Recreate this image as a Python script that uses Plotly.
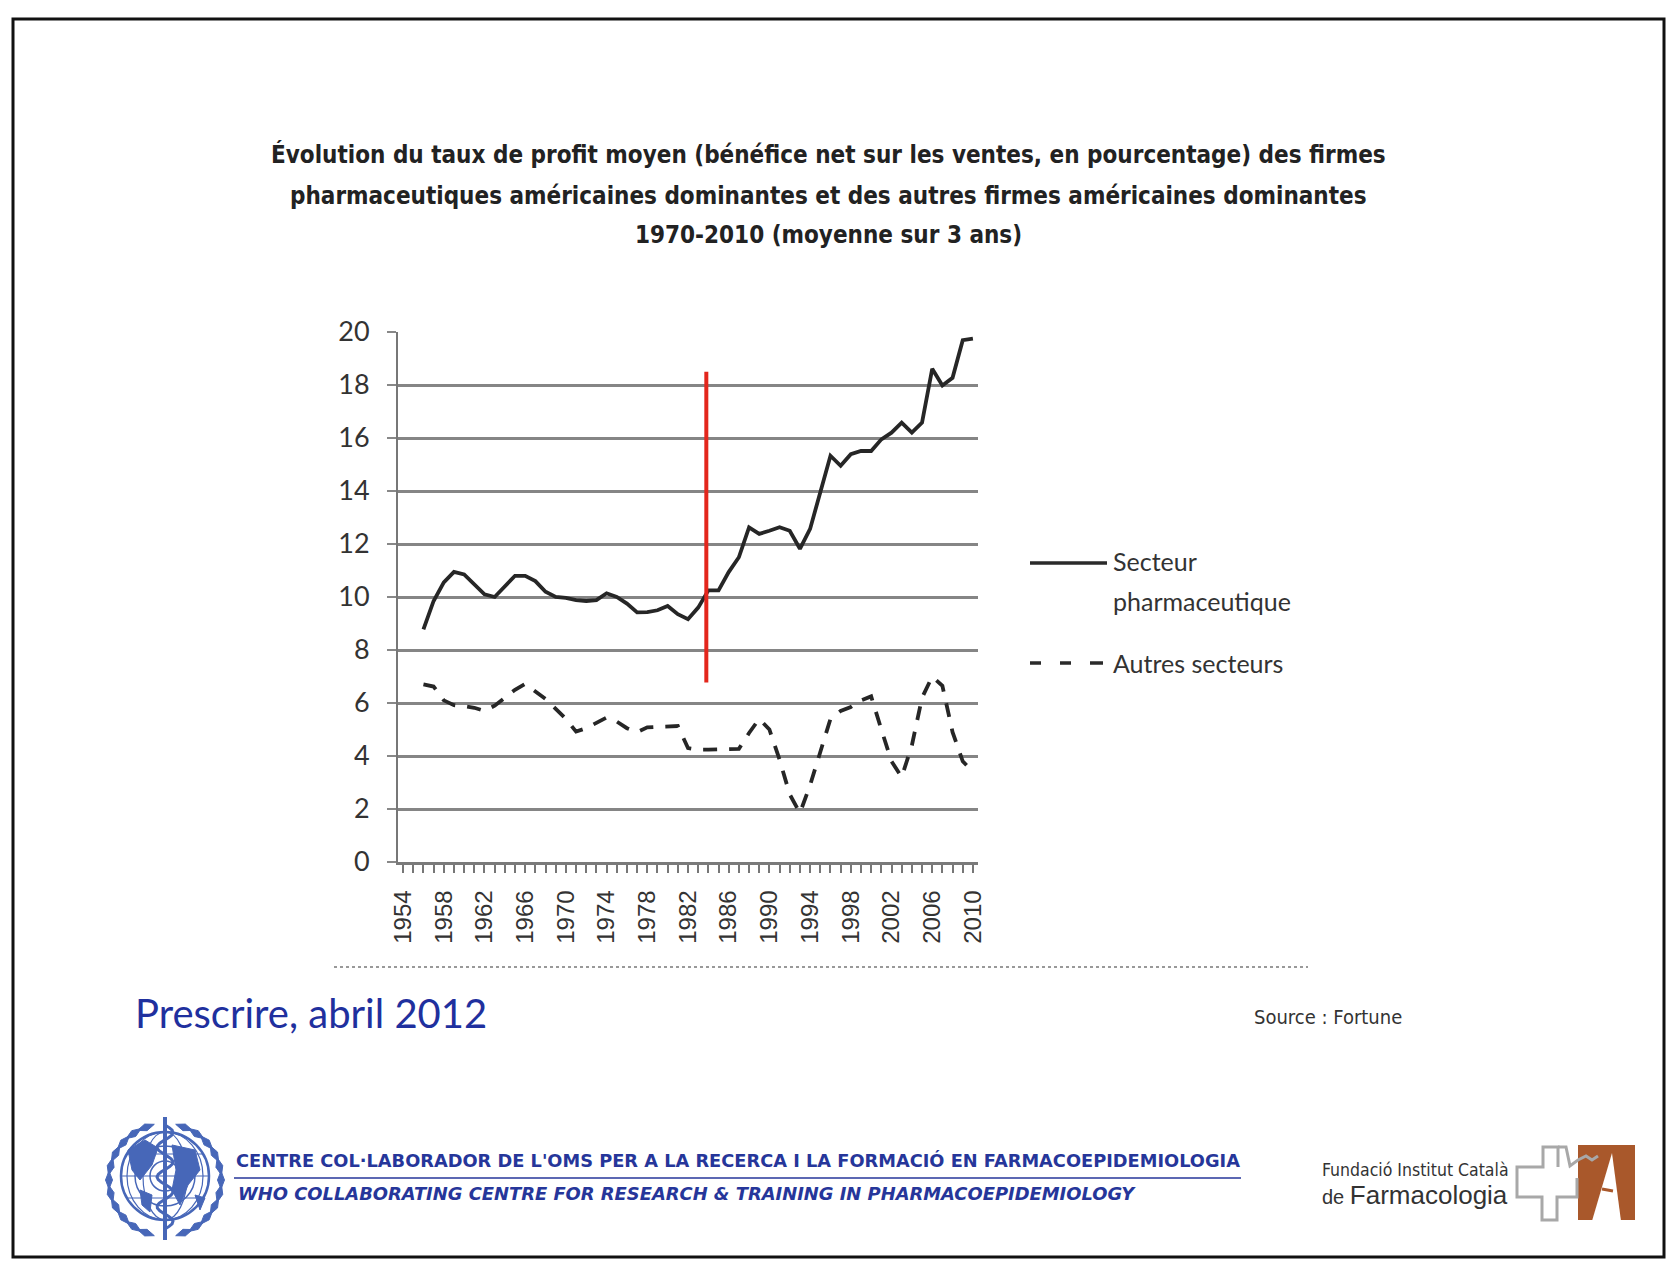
import math
import plotly.graph_objects as go

# Years shown on the chart (one point per year)
years = list(range(1956, 2011))

# Secteur pharmaceutique (% net profit on sales, 3-year average)
pharma = [8.78, 9.85, 10.55, 10.95, 10.85, 10.45, 10.1, 10.0, 10.4, 10.8,
          10.8, 10.6, 10.2, 10.0, 9.97, 9.88, 9.85, 9.88, 10.14, 10.0,
          9.75, 9.42, 9.43, 9.5, 9.66, 9.35, 9.16, 9.6, 10.25, 10.25,
          10.94, 11.5, 12.63, 12.38, 12.5, 12.63, 12.5, 11.82, 12.57, 14.0,
          15.33, 14.95, 15.39, 15.51, 15.51, 15.95, 16.2, 16.58, 16.2, 16.58,
          18.61, 17.98, 18.27, 19.69, 19.75]

# Autres secteurs
autres = [6.7, 6.62, 6.1, 5.92, 5.88, 5.82, 5.7, 5.9, 6.2, 6.5,
          6.72, 6.45, 6.15, 5.78, 5.4, 4.92, 5.05, 5.25, 5.45, 5.3,
          5.05, 4.9, 5.08, 5.1, 5.13, 5.13, 4.3, 4.24, 4.24, 4.25,
          4.27, 4.27, 4.87, 5.4, 5.0, 3.86, 2.55, 1.85, 2.9, 4.1,
          5.4, 5.7, 5.85, 6.1, 6.25, 5.0, 3.8, 3.2, 4.4, 6.2,
          7.0, 6.65, 4.9, 3.8, 3.4]

title_lines = [
    "Évolution du taux de profit moyen (bénéfice net sur les ventes, en pourcentage) des firmes",
    "pharmaceutiques américaines dominantes et des autres firmes américaines dominantes",
    "1970-2010 (moyenne sur 3 ans)",
]
legend_labels = ["Secteur", "pharmaceutique", "Autres secteurs"]

# red marker line (year, from, to)
red_year = 1983.8
red_span = [6.77, 18.5]

NARROW = "DejaVu Sans Condensed, Liberation Sans Narrow, sans-serif"
BLUE = "#26369a"
LOGO_BLUE = "#4767b8"


# page pixel -> paper coordinates (plot area is 398..978 x 332..862 on the page)
def px(x):
    return (x - 398) / 580


def py(y):
    return (862 - y) / 530


def poly(pts, close=True):
    p = "M " + " L ".join("%.5f,%.5f" % (px(a), py(b)) for a, b in pts)
    return p + " Z" if close else p


fig = go.Figure()
fig.add_trace(go.Scatter(x=years, y=pharma, mode="lines",
                         line=dict(color="#262626", width=3.8),
                         name="Secteur pharmaceutique"))
fig.add_trace(go.Scatter(x=years, y=autres, mode="lines",
                         line=dict(color="#262626", width=3.8, dash="14px,12px"),
                         name="Autres secteurs"))

shapes = []
annotations = []

# red vertical line
shapes.append(dict(type="line", xref="x", yref="y", x0=red_year, x1=red_year,
                   y0=red_span[0], y1=red_span[1],
                   line=dict(color="#e3261c", width=4)))

# title
for txt, yy in zip(title_lines, [154, 196, 235]):
    annotations.append(dict(xref="paper", yref="paper", x=px(828), y=py(yy),
                            text="<b>%s</b>" % txt, showarrow=False,
                            xanchor="center", yanchor="middle",
                            font=dict(family=NARROW, size=24, color="#222")))

# legend, drawn by hand
shapes.append(dict(type="line", xref="paper", yref="paper", x0=px(1030), x1=px(1107),
                   y0=py(563), y1=py(563), line=dict(color="#2a2a2a", width=3.5)))
for a, b in [(1030, 1041), (1060, 1071), (1090, 1103)]:
    shapes.append(dict(type="line", xref="paper", yref="paper", x0=px(a), x1=px(b),
                       y0=py(663), y1=py(663), line=dict(color="#2a2a2a", width=3.5)))
for txt, yy in zip(legend_labels, [561, 601, 663]):
    annotations.append(dict(xref="paper", yref="paper", x=px(1111), y=py(yy),
                            text=txt, showarrow=False, xanchor="left", yanchor="middle",
                            font=dict(family="Lato, sans-serif", size=25, color="#333")))

# dotted separator
shapes.append(dict(type="line", xref="paper", yref="paper", x0=px(334), x1=px(1308),
                   y0=py(967), y1=py(967), line=dict(color="#999", width=2, dash="dot")))

annotations.append(dict(xref="paper", yref="paper", x=px(133), y=py(1013),
                        text="Prescrire, abril 2012", showarrow=False,
                        xanchor="left", yanchor="middle",
                        font=dict(family="Lato, sans-serif", size=40, color="#1f309e")))
annotations.append(dict(xref="paper", yref="paper", x=px(1252), y=py(1017),
                        text="Source : Fortune", showarrow=False,
                        xanchor="left", yanchor="middle",
                        font=dict(family=NARROW, size=20, color="#333")))

# WHO footer text
annotations.append(dict(xref="paper", yref="paper", x=px(234), y=py(1160),
                        text="<b>CENTRE COL·LABORADOR DE L'OMS PER A LA RECERCA I LA FORMACIÓ EN FARMACOEPIDEMIOLOGIA</b>",
                        showarrow=False, xanchor="left", yanchor="middle",
                        font=dict(family="DejaVu Sans, sans-serif", size=17.8, color=BLUE)))
annotations.append(dict(xref="paper", yref="paper", x=px(236), y=py(1193),
                        text="<b><i>WHO COLLABORATING CENTRE FOR RESEARCH &amp; TRAINING IN PHARMACOEPIDEMIOLOGY</i></b>",
                        showarrow=False, xanchor="left", yanchor="middle",
                        font=dict(family="DejaVu Sans, sans-serif", size=17.9, color=BLUE)))
shapes.append(dict(type="line", xref="paper", yref="paper", x0=px(234), x1=px(1241),
                   y0=py(1178), y1=py(1178), line=dict(color=BLUE, width=1.5)))

# WHO emblem (simplified)
cx, cy = 165, 1176
for r, w in [(44, 2.5), (30, 1.5), (15, 1.5)]:
    shapes.append(dict(type="circle", xref="paper", yref="paper",
                       x0=px(cx - r), x1=px(cx + r), y0=py(cy - r), y1=py(cy + r),
                       line=dict(color=LOGO_BLUE, width=w)))
for rx in [22, 38]:
    shapes.append(dict(type="circle", xref="paper", yref="paper",
                       x0=px(cx - rx), x1=px(cx + rx), y0=py(cy - 44), y1=py(cy + 44),
                       line=dict(color=LOGO_BLUE, width=1.2)))
for dy in [-22, 0, 22]:
    half = math.sqrt(44 ** 2 - dy ** 2)
    shapes.append(dict(type="line", xref="paper", yref="paper",
                       x0=px(cx - half), x1=px(cx + half), y0=py(cy + dy), y1=py(cy + dy),
                       line=dict(color=LOGO_BLUE, width=1.2)))
# continents (rough blobs)
blobs = [
    [(128, 1150), (145, 1140), (158, 1148), (152, 1165), (140, 1180), (132, 1170)],
    [(172, 1145), (195, 1150), (200, 1170), (188, 1185), (180, 1205), (172, 1190), (176, 1170)],
    [(140, 1190), (152, 1195), (150, 1212), (142, 1205)],
    [(195, 1195), (205, 1198), (200, 1210)],
]
for pts in blobs:
    shapes.append(dict(type="path", xref="paper", yref="paper", path=poly(pts),
                       fillcolor=LOGO_BLUE, line=dict(color=LOGO_BLUE, width=1)))
# staff and serpent
shapes.append(dict(type="line", xref="paper", yref="paper", x0=px(cx), x1=px(cx),
                   y0=py(1117), y1=py(1240), line=dict(color=LOGO_BLUE, width=4)))
snake = [(cx + 8 * math.sin(i * 0.55), 1125 + i * 2.6) for i in range(41)]
shapes.append(dict(type="path", xref="paper", yref="paper", path=poly(snake, False),
                   line=dict(color=LOGO_BLUE, width=3)))
# laurel wreath
for side in (-1, 1):
    for k in range(11):
        ang = math.radians(-70 + k * 14)
        lx = cx + side * 56 * math.cos(ang)
        ly = cy + 4 + 56 * math.sin(ang)
        tx, ty = -math.sin(ang) * side, math.cos(ang)
        nx, ny = math.cos(ang) * side, math.sin(ang)
        L, Wd = 9, 3.5
        pts = [(lx - tx * L, ly - ty * L), (lx + nx * Wd, ly + ny * Wd),
               (lx + tx * L, ly + ty * L), (lx - nx * Wd, ly - ny * Wd)]
        shapes.append(dict(type="path", xref="paper", yref="paper", path=poly(pts),
                           fillcolor=LOGO_BLUE, line=dict(color=LOGO_BLUE, width=1)))

# Fundació Institut Català de Farmacologia
annotations.append(dict(xref="paper", yref="paper", x=px(1320), y=py(1170),
                        text="Fundació Institut Català", showarrow=False,
                        xanchor="left", yanchor="middle",
                        font=dict(family=NARROW, size=17.5, color="#333")))
annotations.append(dict(xref="paper", yref="paper", x=px(1320), y=py(1195),
                        text="de <span style='font-size:26px'>Farmacologia</span>",
                        showarrow=False, xanchor="left", yanchor="middle",
                        font=dict(family="Liberation Sans, Arial, sans-serif", size=20, color="#333")))
shapes.append(dict(type="rect", xref="paper", yref="paper", x0=px(1578), x1=px(1635),
                   y0=py(1220), y1=py(1145), fillcolor="#a9582b", line=dict(width=0)))
shapes.append(dict(type="path", xref="paper", yref="paper",
                   path=poly([(1592, 1221), (1612, 1153), (1621, 1221)]),
                   fillcolor="white", line=dict(width=0)))
shapes.append(dict(type="line", xref="paper", yref="paper", x0=px(1602), x1=px(1613),
                   y0=py(1189), y1=py(1191), line=dict(color="#a9582b", width=3)))
cross = [(1558, 1167), (1558, 1147), (1543, 1147), (1543, 1167), (1517, 1167),
         (1517, 1197), (1542, 1197), (1542, 1220), (1557, 1220), (1557, 1197),
         (1577, 1197), (1577, 1178)]
shapes.append(dict(type="path", xref="paper", yref="paper", path=poly(cross, False),
                   line=dict(color="#a8a8a8", width=3)))
wave = [(1558, 1147), (1566, 1147), (1570, 1166), (1578, 1160), (1586, 1156),
        (1592, 1160), (1598, 1156)]
shapes.append(dict(type="path", xref="paper", yref="paper", path=poly(wave, False),
                   line=dict(color="#a8a8a8", width=3)))

# page frame
shapes.append(dict(type="rect", xref="paper", yref="paper", x0=px(13), x1=px(1664),
                   y0=py(1257), y1=py(19), line=dict(color="#111", width=3)))

fig.update_layout(
    width=1664, height=1258,
    margin=dict(l=390, r=694, t=324, b=404, pad=0),
    paper_bgcolor="white", plot_bgcolor="white",
    showlegend=False,
    shapes=shapes, annotations=annotations,
    xaxis=dict(range=[1953.5, 2010.5], tickmode="linear", tick0=1954, dtick=4,
               tickangle=-90, ticks="outside", ticklen=8, tickwidth=1.5, tickcolor="#777",
               minor=dict(tick0=1954, dtick=1, ticks="outside", ticklen=8,
                          tickwidth=1.5, tickcolor="#777", showgrid=False),
               showline=True, linecolor="#7a7a7a", linewidth=2.5,
               showgrid=False, zeroline=False, ticklabelstandoff=8,
               tickfont=dict(family="Liberation Sans, Arial, sans-serif", size=24, color="#333")),
    yaxis=dict(range=[0, 20], tickmode="linear", tick0=0, dtick=2,
               ticks="outside", ticklen=9, tickwidth=1.5, tickcolor="#888",
               showline=True, linecolor="#777", linewidth=2,
               showgrid=True, gridcolor="#858585", gridwidth=2.5,
               zeroline=False, ticklabelstandoff=12,
               tickfont=dict(family="Lato, sans-serif", size=27, color="#333")),
)

fig.write_html("out.html")
